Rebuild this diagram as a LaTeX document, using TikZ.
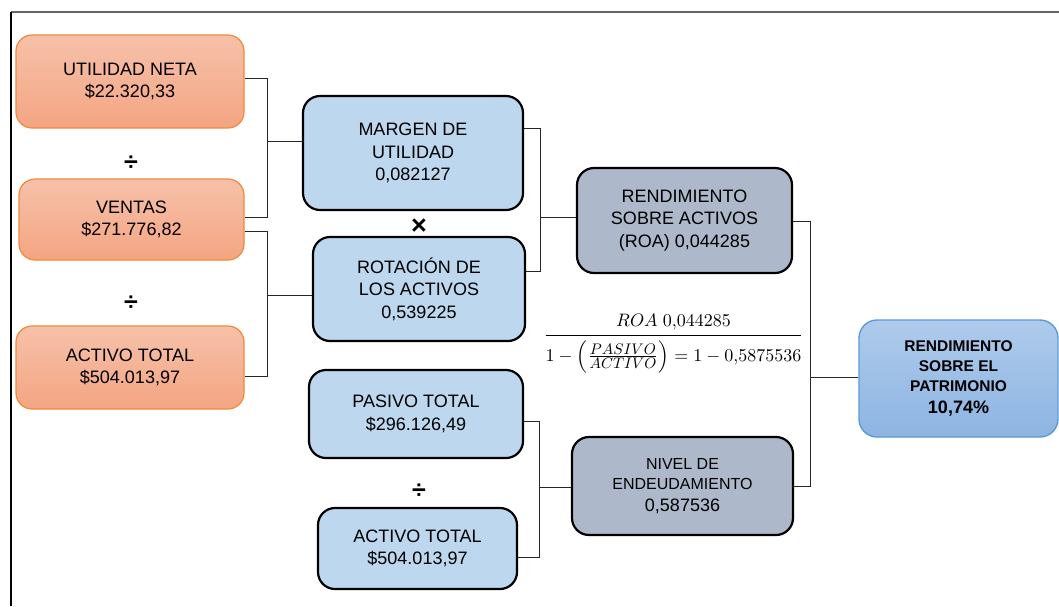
\documentclass[tikz,border=0pt]{standalone}
\usepackage{amsmath}
\usepackage[no-math]{fontspec}
\setmainfont{Liberation Sans}
\usetikzlibrary{calc}
\definecolor{orTop}{HTML}{F6C1A9}
\definecolor{orBot}{HTML}{F4A582}
\definecolor{orLine}{HTML}{F08A3C}
\definecolor{blFill}{HTML}{BDD7EE}
\definecolor{grFill}{HTML}{ADB9CA}
\definecolor{paTop}{HTML}{AECBEC}
\definecolor{paBot}{HTML}{8DB4E2}
\definecolor{paLine}{HTML}{5B9BD5}
\definecolor{frameGray}{HTML}{666666}
\begin{document}
\begin{tikzpicture}[x=1pt,y=-1pt,
  txt/.style={font=\fontsize{18}{22.5}\selectfont, align=center, inner sep=0pt},
  obox/.style={txt, rounded corners=16pt, draw=orLine, line width=1.2pt, top color=orTop, bottom color=orBot},
  bbox/.style={txt, rounded corners=17pt, draw=black, line width=2.2pt, fill=blFill},
  gbox/.style={txt, rounded corners=17pt, draw=black, line width=2.2pt, fill=grFill},
  pbox/.style={txt, rounded corners=18pt, draw=paLine, line width=1.4pt, top color=paTop, bottom color=paBot},
  conn/.style={draw=black!85, line width=1pt},
  opsym/.style={inner sep=0pt, font=\fontsize{25}{25}\selectfont\bfseries}
]
\useasboundingbox (0,0) rectangle (1059,606);
\fill[white] (0,0) rectangle (1059,606);
\draw[frameGray, line width=1.2pt] (11,12) -- (1059,12);
\draw[black, line width=1.2pt] (11,12) -- (11,606);

% left column
\node[obox, minimum width=228pt, minimum height=93pt] (un) at (130,81.5) {UTILIDAD NETA\\\$22.320,33};
\node[obox, minimum width=225pt, minimum height=81pt] (ven) at (131.5,219.5) {VENTAS\\\$271.776,82};
\node[obox, minimum width=228pt, minimum height=83pt] (act1) at (130,367.5) {ACTIVO TOTAL\\\$504.013,97};
\node[opsym] (div1) at (131,163) {÷};
\node[opsym] (div2) at (131,303) {÷};

% middle column
\node[bbox, minimum width=220pt, minimum height=114pt] (mar) at (413,153) {MARGEN DE\\UTILIDAD\\0,082127};
\node[bbox, minimum width=212pt, minimum height=104pt] (rot) at (419,289) {ROTACIÓN DE\\LOS ACTIVOS\\0,539225};
\node[bbox, minimum width=214pt, minimum height=88pt] (pas) at (416,414) {PASIVO TOTAL\\\$296.126,49};
\node[bbox, minimum width=199pt, minimum height=81pt] (act2) at (417.5,548.5) {ACTIVO TOTAL\\\$504.013,97};
\node[opsym, font=\fontsize{27}{27}\selectfont\bfseries] (mul) at (419,227) {×};
\node[opsym] (div3) at (419,491) {÷};

% right column
\node[gbox, minimum width=215pt, minimum height=105pt] (roa) at (684.5,220.5) {RENDIMIENTO\\SOBRE ACTIVOS\\(ROA) 0,044285};
\node[gbox, minimum width=221pt, minimum height=98pt, font=\fontsize{16}{20}\selectfont] (niv) at (682.5,486)
  {NIVEL DE\\ENDEUDAMIENTO\\[2.5pt]\fontsize{18}{20}\selectfont 0,587536};
\node[pbox, minimum width=199pt, minimum height=117pt, font=\bfseries\fontsize{15.5}{20}\selectfont] (pat) at (958.5,378.5)
  {RENDIMIENTO\\SOBRE EL\\PATRIMONIO\\[2pt]\fontsize{18}{20}\selectfont 10,74\%};

% formula
\node[inner sep=0pt, anchor=base] (frm) at (673.5,340)
  {\scalebox{1.8}{$\genfrac{}{}{0.8pt}{0}{ROA\ 0{,}044285}{1-\left(\frac{\scalebox{0.85}{$PASIVO$}}{\scalebox{0.85}{$ACTIVO$}}\right)=1-0{,}5875536}$}};

% brackets
\draw[conn] ([yshift=3.5pt]un.east) -- (267,78) |- ([yshift=2.5pt]ven.east);
\draw[conn] ([yshift=12pt]mar.west) -- (267,141);
\draw[conn] ([yshift=-11.5pt]ven.east) -- (267,231) |- ([yshift=-8.5pt]act1.east);
\draw[conn] ([yshift=-6pt]rot.west) -- (267,295);
\draw[conn] ([yshift=25pt]mar.east) -- (540,128) |- ([yshift=18pt]rot.east);
\draw[conn] ([yshift=3.5pt]roa.west) -- (540,217);
\draw[conn] ([yshift=-7pt]pas.east) -- (539,421) |- ([yshift=-8.5pt]act2.east);
\draw[conn] ([yshift=-1pt]niv.west) -- (539,487);
\draw[conn] ([yshift=-0.5pt]roa.east) -- (810,221) |- (niv.east);
\draw[conn] ([yshift=1.5pt]pat.west) -- (810,377);
\end{tikzpicture}
\end{document}
